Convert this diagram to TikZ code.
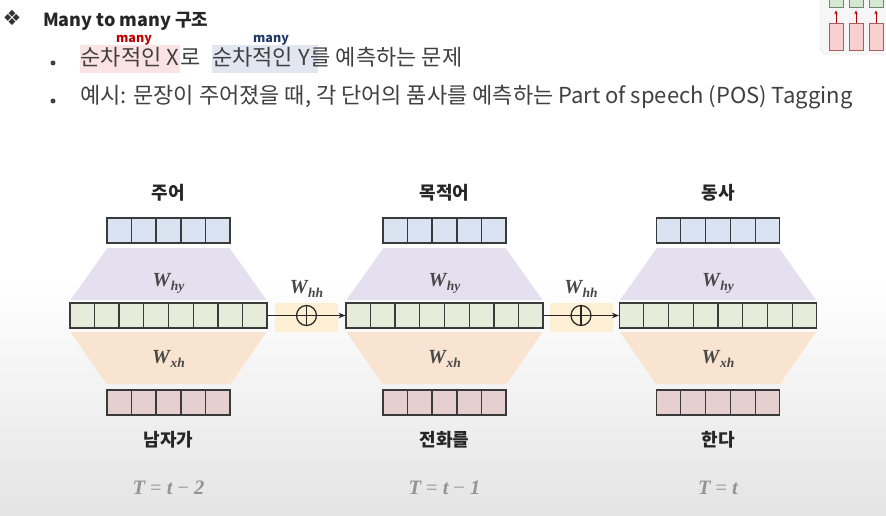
\documentclass[tikz,border=0pt]{standalone}
\usepackage{fontspec}
\setmainfont{Noto Sans CJK KR}
\newfontfamily\djv{DejaVu Sans}
\newfontfamily\lsbi{Liberation Serif}[UprightFont=* Bold Italic]
\newfontfamily\lsr{Liberation Serif}
\usetikzlibrary{arrows.meta,calc}
\definecolor{cellborder}{HTML}{3A3A3A}
\definecolor{bluec}{HTML}{DAE3F1}
\definecolor{greenc}{HTML}{E7ECDA}
\definecolor{redc}{HTML}{E6CFCF}
\definecolor{purp}{HTML}{E5E0EF}
\definecolor{peach}{HTML}{F8E4D0}
\definecolor{yelc}{HTML}{FCEFD3}
\definecolor{pinkhl}{HTML}{FCE3E3}
\definecolor{bluehl}{HTML}{E1E6F0}
\definecolor{manyred}{HTML}{C00000}
\definecolor{manyblue}{HTML}{1F3864}
\definecolor{txt}{HTML}{404040}
\definecolor{ipink}{HTML}{F8CFCF}
\definecolor{ipinkb}{HTML}{A86060}
\definecolor{igreen}{HTML}{D6E8D3}
\definecolor{igreenb}{HTML}{6A8A6A}
\newcommand{\wsym}[1]{{\fontsize{20}{21}\selectfont\lsbi W}\kern0.5pt\raisebox{-4pt}{\fontsize{13.5}{14}\selectfont\lsbi #1}}
\newcommand{\tsym}[1]{{\lsbi T}\kern5pt{\lsr =}\kern5pt{\lsbi t}#1}
\begin{document}
\begin{tikzpicture}[x=1pt,y=-1pt,
  cellbox/.style={draw=cellborder, line width=1.2pt, inner sep=0pt, minimum height=25pt},
  divline/.style={draw=cellborder, line width=1.2pt},
  lab/.style={font=\fontsize{18}{20}\selectfont\bfseries, text=black!85},
  wlab/.style={text=black!72, inner sep=0pt},
  tlab/.style={font=\fontsize{20.5}{22}\selectfont, text=black!42},
  body/.style={font=\fontsize{22}{24}\selectfont, text=txt, inner sep=0pt, anchor=base west},
  hl/.style={text height=21pt, text depth=7pt, inner xsep=0.5pt},
  yelbox/.style={fill=yelc, inner sep=0pt, minimum width=63pt, minimum height=29pt},
  opcirc/.style={circle, draw=black!85, line width=1.2pt, fill=none, minimum size=20pt, inner sep=0pt},
  flow/.style={draw=black!85, line width=1pt, -{Stealth[length=7pt,width=5.5pt]}},
  irectp/.style={draw=ipinkb, fill=ipink, line width=0.8pt, inner sep=0pt, minimum width=14pt},
  irectg/.style={draw=igreenb, fill=igreen, line width=0.8pt, inner sep=0pt, minimum width=14pt},
  iarrow/.style={draw=red!70!black, line width=0.9pt, -{Stealth[length=4pt,width=3.5pt]}, shorten >=3pt},
  bulletdot/.style={circle, fill=txt, inner sep=0pt, minimum size=5pt}
]
\useasboundingbox (0,0) rectangle (886,516);
\fill[white] (0,0) rectangle (886,516);
\shade[top color=white, bottom color=gray!21] (0,280) rectangle (886,516);

% top-right icon
\node[draw=gray!18, fill=gray!7, rounded corners=8pt, minimum width=80pt, minimum height=80pt] (icon) at (860,15) {};
\foreach \k/\xx in {1/836,2/856,3/876} {
  \node[irectp, minimum height=27pt] (ix\k) at (\xx,36.5) {};
  \node[irectg, minimum height=12pt] (ig\k) at (\xx,1) {};
  \draw[iarrow] (ix\k.north) -- (ig\k.south);
}

% header
\node[font=\djv\fontsize{21}{22}\selectfont, text=black!80] (dia) at (12,18) {❖};
\node[anchor=base west, inner sep=0pt, font=\fontsize{18}{20}\selectfont\bfseries, text=black!85] (title) at (43,27) {Many to many 구조};
\node[bulletdot] (bul1) at (53,63) {};
\node[bulletdot] (bul2) at (53,101) {};
\node[body, hl, fill=pinkhl] (s1) at (80,66) {순차적인 X};
\node[body] (s2) at (s1.base east) {로};
\node[body, hl, fill=bluehl] (s3) at ($(s2.base east)+(11,0)$) {순차적인 Y\kern8pt};
\node[body] (s4) at ($(s3.base east)+(-8,0)$) {를 예측하는 문제};
\node[font=\fontsize{12.5}{14}\selectfont\bfseries, text=manyred, inner sep=0pt] (m1) at (134,40) {many};
\node[font=\fontsize{12.5}{14}\selectfont\bfseries, text=manyblue, inner sep=0pt] (m2) at (271,40) {many};
\node[body] (l2) at (80,104) {예시: 문장이 주어졌을 때, 각 단어의 품사를 예측하는 Part of speech (POS) Tagging};

% yellow boxes behind recurrent connections
\node[yelbox] (yb1) at (306.5,317.5) {};
\node[yelbox] (yb2) at (581,317.5) {};

% blocks
\foreach \cx/\n/\tA/\bA/\tV in {168.5/1/주어/남자가/{\kern5pt{\lsr −}\kern5pt{\lsbi 2}}, 444.5/2/목적어/전화를/{\kern5pt{\lsr −}\kern5pt{\lsbi 1}}, 718/3/동사/한다/{}} {
  \fill[purp] (\cx-61,248) -- (\cx+61,248) -- (\cx+98,300) -- (\cx-98,300) -- cycle;
  \fill[peach] (\cx-98,332) -- (\cx+98,332) -- (\cx+62,384) -- (\cx-62,384) -- cycle;
  \node[cellbox, fill=bluec, minimum width=123pt] (t\n) at (\cx,230.5) {};
  \node[cellbox, fill=greenc, minimum width=197pt] (h\n) at (\cx,315.5) {};
  \node[cellbox, fill=redc, minimum width=123pt] (b\n) at (\cx,402.5) {};
  \foreach \i in {1,...,4} {
    \draw[divline] ($(t\n.north west)!\i/5!(t\n.north east)$) -- ($(t\n.south west)!\i/5!(t\n.south east)$);
    \draw[divline] ($(b\n.north west)!\i/5!(b\n.north east)$) -- ($(b\n.south west)!\i/5!(b\n.south east)$);
  }
  \foreach \i in {1,...,7} {
    \draw[divline] ($(h\n.north west)!\i/8!(h\n.north east)$) -- ($(h\n.south west)!\i/8!(h\n.south east)$);
  }
  \node[lab] (ta\n) at (\cx,193) {\tA};
  \node[lab] (ba\n) at (\cx,440) {\bA};
  \node[wlab] (why\n) at (\cx,283) {\wsym{hy}};
  \node[wlab] (wxh\n) at (\cx,359) {\wsym{xh}};
  \node[tlab] (tl\n) at (\cx,488) {\tsym{\tV}};
}

% recurrent connections
\node[opcirc] (c1) at (yb1.center |- h1.east) {};
\node[opcirc] (c2) at (yb2.center |- h2.east) {};
\draw[flow] (h1.east) -- (h2.west);
\draw[flow] (h2.east) -- (h3.west);
\draw[draw=black!85, line width=1.2pt] (c1.north) -- (c1.south);
\draw[draw=black!85, line width=1.2pt] (c2.north) -- (c2.south);
\node[wlab] (whh1) at (306.5,289) {\wsym{hh}};
\node[wlab] (whh2) at (581,289) {\wsym{hh}};
\end{tikzpicture}
\end{document}
